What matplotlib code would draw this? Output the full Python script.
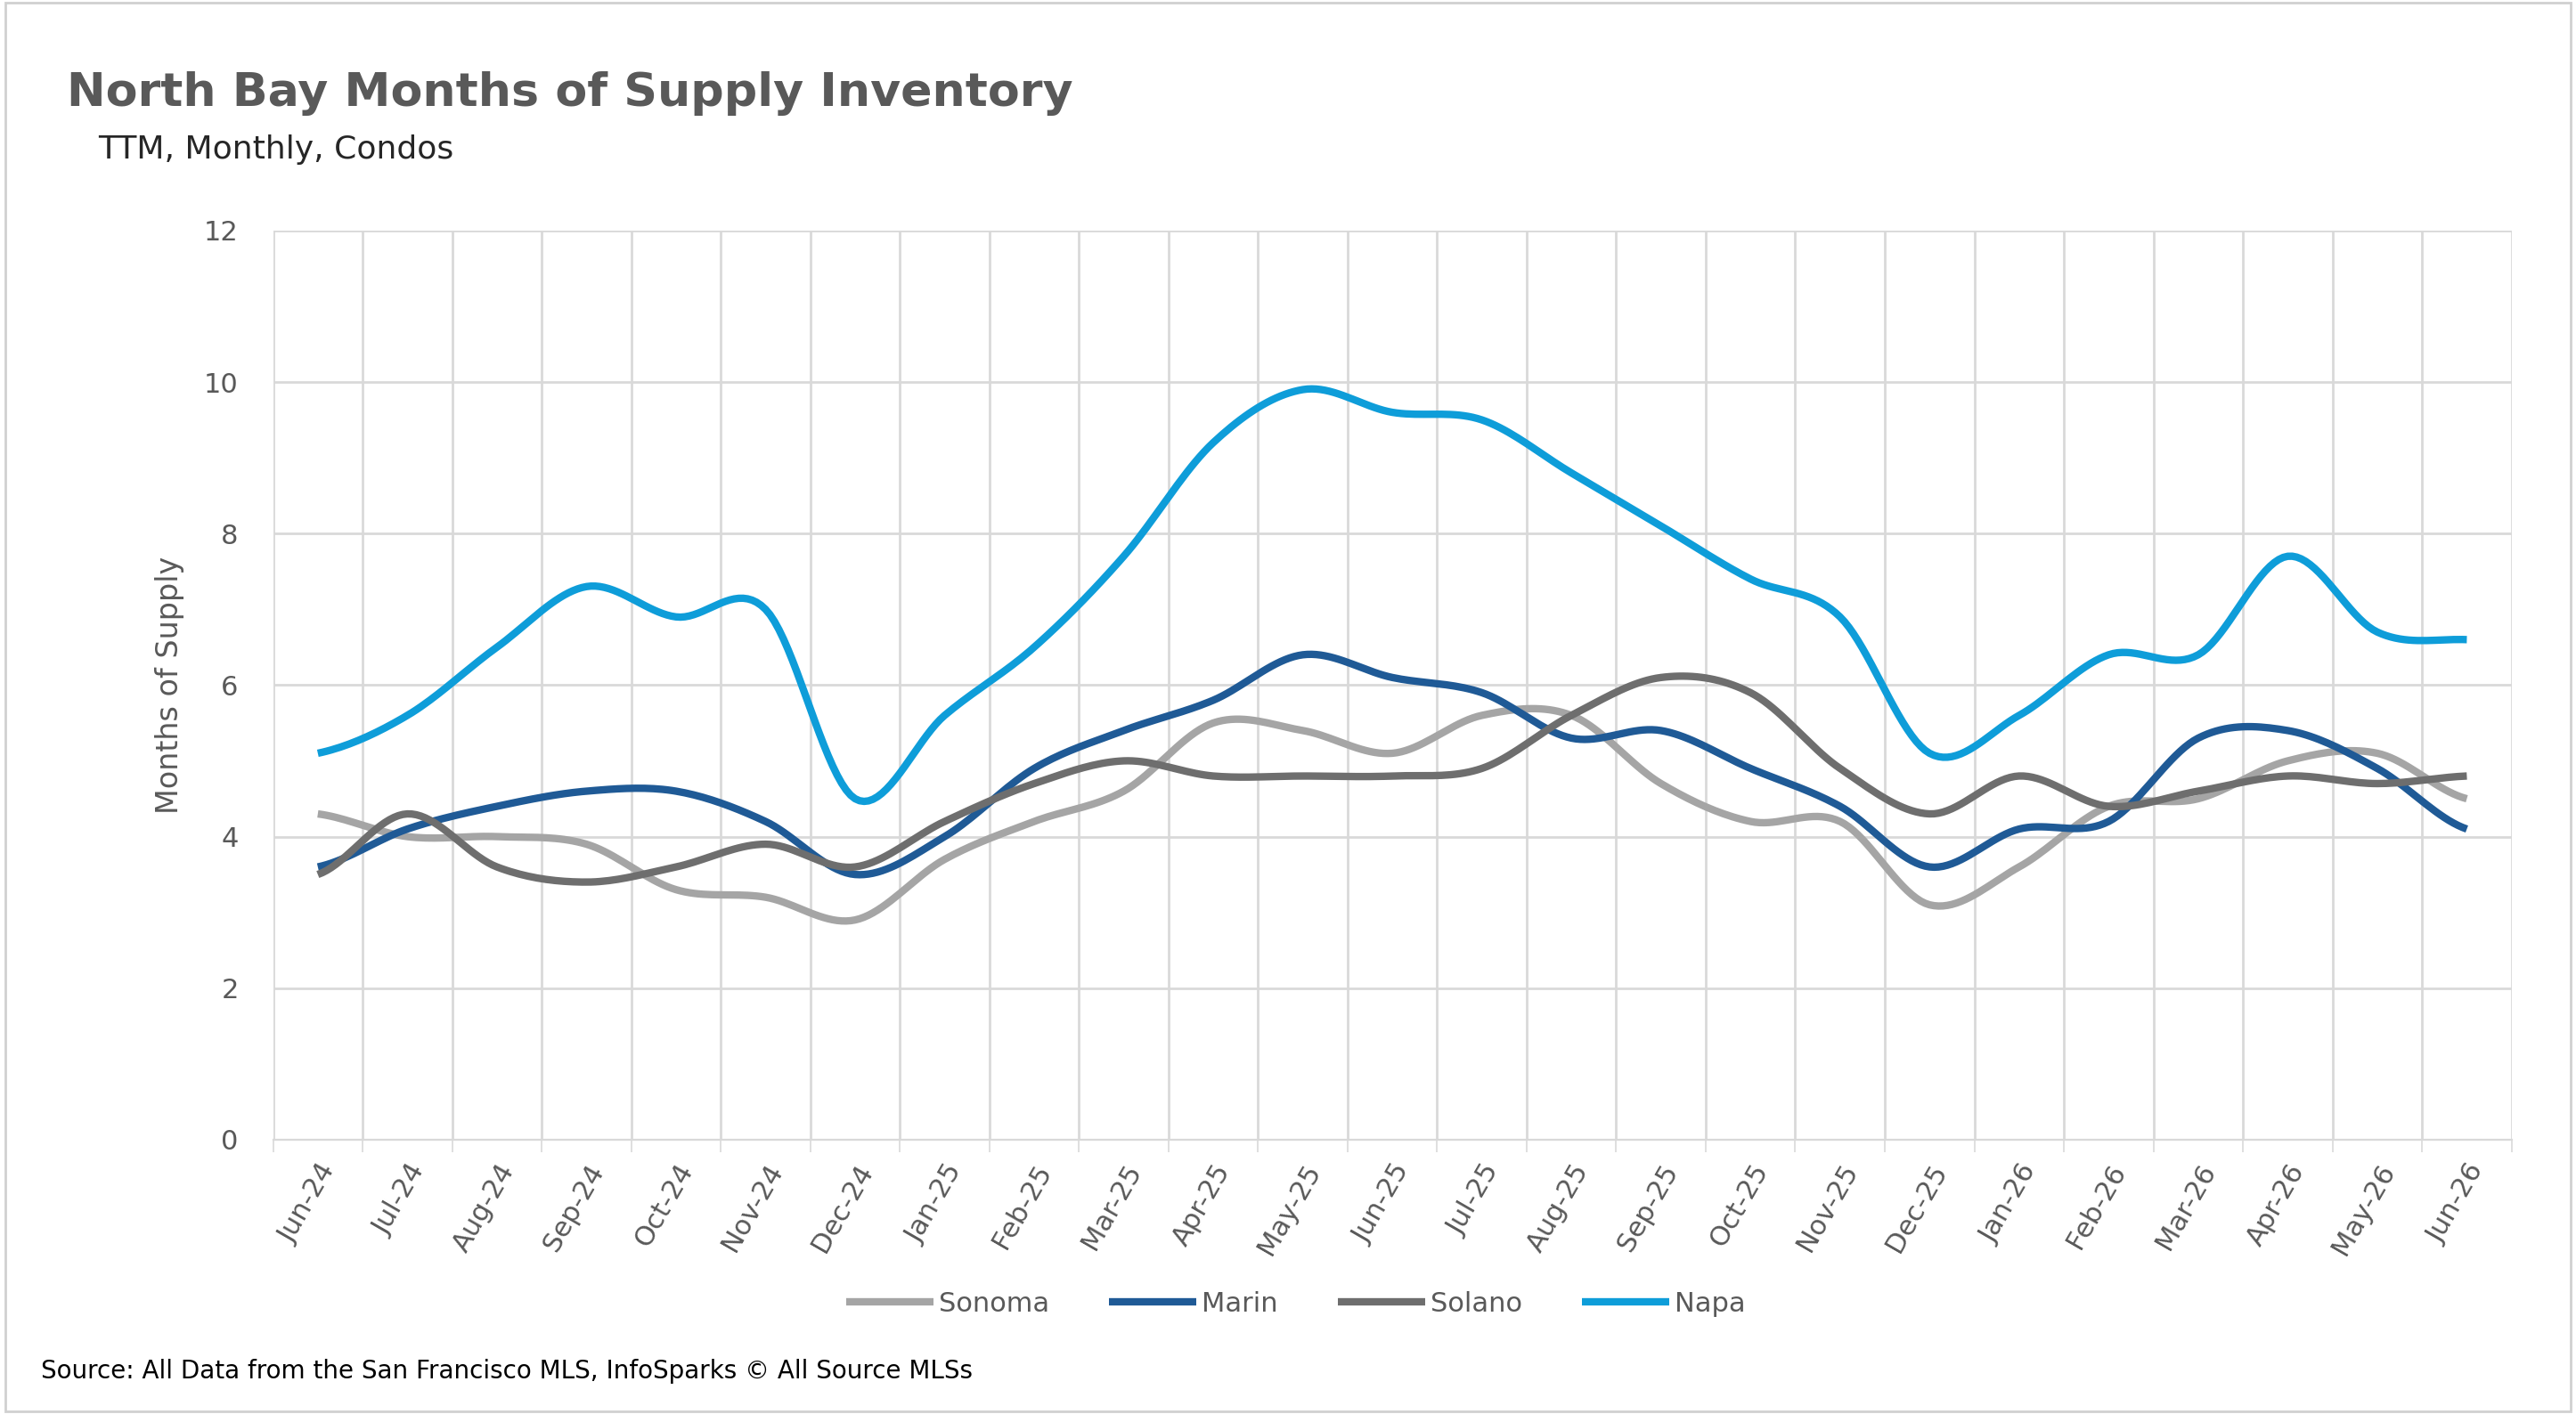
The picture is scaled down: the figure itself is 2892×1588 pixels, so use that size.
import numpy as np
import matplotlib.pyplot as plt
from matplotlib.patches import Rectangle

months = ["Jun-24","Jul-24","Aug-24","Sep-24","Oct-24","Nov-24","Dec-24","Jan-25","Feb-25","Mar-25",
          "Apr-25","May-25","Jun-25","Jul-25","Aug-25","Sep-25","Oct-25","Nov-25","Dec-25","Jan-26",
          "Feb-26","Mar-26","Apr-26","May-26","Jun-26"]
sonoma = [4.3,4.0,4.0,3.9,3.3,3.2,2.9,3.7,4.2,4.6,5.5,5.4,5.1,5.6,5.6,4.7,4.2,4.2,3.1,3.6,4.4,4.5,5.0,5.1,4.5]
marin  = [3.6,4.1,4.4,4.6,4.6,4.2,3.5,4.0,4.9,5.4,5.8,6.4,6.1,5.9,5.3,5.4,4.9,4.4,3.6,4.1,4.2,5.3,5.4,4.9,4.1]
solano = [3.5,4.3,3.6,3.4,3.6,3.9,3.6,4.2,4.7,5.0,4.8,4.8,4.8,4.9,5.6,6.1,5.9,4.9,4.3,4.8,4.4,4.6,4.8,4.7,4.8]
napa   = [5.1,5.6,6.5,7.3,6.9,7.0,4.5,5.6,6.5,7.7,9.2,9.9,9.6,9.5,8.8,8.1,7.4,6.9,5.1,5.6,6.4,6.4,7.7,6.7,6.6]

series = [("Sonoma", sonoma, "#A5A5A5"), ("Marin", marin, "#1F5A96"),
          ("Solano", solano, "#6E6E6E"), ("Napa", napa, "#0E9DD9")]

def smooth(y, n=20):
    # catmull-rom style curve, like Excel's smoothed line
    y = np.asarray(y, float)
    p = np.concatenate([[y[0]], y, [y[-1]]])
    xs, ys = [], []
    for i in range(len(y) - 1):
        t = np.linspace(0, 1, n, endpoint=False)
        p0, p1, p2, p3 = p[i], p[i+1], p[i+2], p[i+3]
        v = 0.5*((2*p1) + (-p0+p2)*t + (2*p0-5*p1+4*p2-p3)*t**2 + (-p0+3*p1-3*p2+p3)*t**3)
        xs.append(i + t); ys.append(v)
    xs.append([len(y)-1]); ys.append([y[-1]])
    return np.concatenate(xs), np.concatenate(ys)

fig = plt.figure(figsize=(14.46, 7.94), dpi=200)
fig.patches.append(Rectangle((0.002, 0.002), 0.996, 0.996, transform=fig.transFigure,
                             fill=False, edgecolor="#D0D0D0", linewidth=1))
ax = fig.add_axes([0.106, 0.194, 0.869, 0.643])
x = np.arange(len(months))
for name, vals, col in series:
    sx, sy = smooth(vals)
    ax.plot(sx, sy, color=col, linewidth=3, label=name, solid_capstyle="butt")

ax.set_xlim(-0.5, len(months) - 0.5)
ax.set_ylim(0, 12)
ax.set_yticks(range(0, 13, 2))
ax.set_xticks(x)
ax.set_xticklabels(months, rotation=60, ha="right", rotation_mode="anchor")
ax.set_xticks(np.arange(-0.5, len(months), 1), minor=True)
ax.tick_params(axis="x", which="major", length=0, labelsize=11, colors="#595959", pad=8)
ax.tick_params(axis="x", which="minor", length=5, color="#D9D9D9")
ax.tick_params(axis="y", length=0, labelsize=11, colors="#595959", pad=14)
ax.grid(True, which="minor", axis="x", color="#D9D9D9", linewidth=1)
ax.grid(True, which="major", axis="y", color="#D9D9D9", linewidth=1)
for s in ["top", "right", "left"]:
    ax.spines[s].set_visible(False)
ax.spines["bottom"].set_color("#D9D9D9")
ax.set_ylabel("Months of Supply", fontsize=12, color="#595959", labelpad=8)

fig.text(0.026, 0.925, "North Bay Months of Supply Inventory", fontsize=18.8, fontweight="bold", color="#595959")
fig.text(0.038, 0.888, "TTM, Monthly, Condos", fontsize=13, color="#262626")
fig.text(0.016, 0.025, "Source: All Data from the San Francisco MLS, InfoSparks \u00a9 All Source MLSs",
         fontsize=10, color="#000000")
fig.legend(loc="center", bbox_to_anchor=(0.503, 0.078), ncol=4, frameon=False, fontsize=11,
           handlelength=3.2, handletextpad=0.2, columnspacing=2.2, labelcolor="#595959")
fig.savefig("out.png")
